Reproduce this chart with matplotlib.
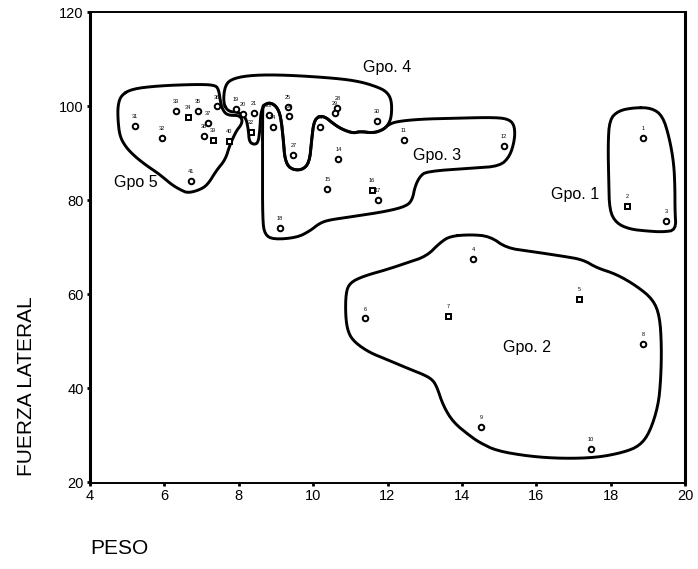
import numpy as np
import matplotlib
matplotlib.use("Agg")
import matplotlib.pyplot as plt

plt.rcParams['font.family'] = ['Liberation Sans', 'DejaVu Sans']

# ---- data: points (PESO, FUERZA LATERAL) per group ----
g1_x = [18.87, 18.45, 19.50]
g1_y = [93.3, 78.7, 75.6]
g1_m = ['o', 's', 'o']

g2_x = [14.30, 17.15, 11.39, 13.63, 18.87, 14.51, 17.47]
g2_y = [67.5, 59.0, 54.8, 55.3, 49.4, 31.8, 27.0]
g2_m = ['o', 's', 'o', 's', 'o', 'o', 'o']

g3_x = [12.44, 15.13, 10.18, 10.68, 10.38, 11.57, 11.75, 9.11]
g3_y = [92.8, 91.5, 95.6, 88.8, 82.4, 82.2, 80.1, 74.1]
g3_m = ['o', 'o', 'o', 'o', 'o', 's', 'o', 'o']

g4_x = [7.92, 8.11, 8.41, 8.33, 8.82, 8.91, 9.32, 9.36, 9.47, 10.65, 10.59, 11.71]
g4_y = [99.3, 98.3, 98.5, 94.5, 98.0, 95.5, 99.8, 97.9, 89.6, 99.6, 98.6, 96.9]
g4_m = ['o', 'o', 'o', 's', 'o', 'o', 'o', 'o', 'o', 'o', 'o', 'o']

g5_x = [5.21, 5.93, 6.30, 6.64, 6.90, 7.41, 7.18, 7.07, 7.31, 7.74, 6.72]
g5_y = [95.8, 93.3, 99.0, 97.6, 99.0, 99.9, 96.4, 93.7, 92.8, 92.6, 84.0]
g5_m = ['o', 'o', 'o', 's', 'o', 'o', 'o', 'o', 's', 's', 'o']

# ---- data: hand-drawn group outlines (data coordinates) ----
out1_x = [18.63, 19.10, 19.40, 19.58, 19.70, 19.73, 19.73, 19.76, 19.40, 18.98,
          18.51, 18.15, 17.97, 17.95, 17.93, 17.97, 18.21]
out1_y = [99.65, 99.6, 97.9, 93.2, 87.8, 82.5, 77.8, 73.6, 73.2, 73.4,
          73.8, 75.1, 77.8, 84.0, 91.7, 97.1, 99.0]

out2_x = [13.68, 14.22, 14.75, 15.20, 15.83, 16.72, 17.26, 17.62, 18.16, 18.70,
          19.14, 19.32, 19.37, 19.35, 19.28, 19.05, 18.78, 18.34, 17.62, 16.72,
          15.83, 14.93, 14.48, 14.22, 13.77, 13.50, 13.32, 13.19, 12.96, 12.60,
          11.98, 11.53, 11.12, 10.94, 10.87, 10.88, 10.99, 11.35, 11.98, 12.51,
          13.05, 13.41]
out2_y = [72.3, 72.65, 72.3, 69.8, 69.1, 68.05, 67.3, 65.6, 64.2, 61.7,
          58.85, 55.3, 48.9, 41.9, 36.2, 30.55, 27.7, 26.3, 25.2, 25.0,
          25.45, 26.65, 28.4, 29.8, 32.7, 36.2, 40.45, 41.9, 42.9, 44.0,
          46.1, 47.5, 49.7, 51.8, 55.3, 60.3, 62.4, 63.8, 65.2, 66.6,
          68.05, 70.9]

out3_x = [8.64, 8.64, 8.68, 8.84, 9.02, 9.13, 9.20, 9.24, 9.38, 9.69,
          9.90, 9.96, 10.02, 10.16, 10.34, 10.50, 10.76, 11.08, 11.26, 11.62,
          11.88, 12.02, 12.24, 12.87, 13.77, 14.93, 15.29, 15.42, 15.42, 15.29,
          15.02, 14.30, 13.05, 12.87, 12.74, 12.67, 12.51, 11.98, 11.08, 10.45,
          10.18, 9.91, 9.56, 8.93, 8.70, 8.64]
out3_y = [88.6, 99.9, 100.25, 100.75, 99.9, 97.8, 92.8, 88.6, 86.6, 86.3,
          87.9, 92.8, 96.7, 97.9, 97.6, 96.5, 95.1, 94.2, 94.6, 94.25,
          94.95, 96.0, 96.7, 97.2, 97.4, 97.6, 97.1, 95.65, 92.8, 89.3,
          87.2, 86.8, 86.1, 85.0, 82.9, 80.1, 78.7, 77.6, 76.5, 75.8,
          75.1, 73.4, 72.0, 71.6, 72.65, 75.8]

out4_x = [7.58, 7.72, 7.99, 8.19, 8.26, 8.28, 8.39, 8.52, 8.57, 8.59,
          8.68, 8.84, 9.02, 9.13, 9.20, 9.24, 9.38, 9.69, 9.90, 9.96,
          10.02, 10.16, 10.34, 10.50, 10.76, 11.08, 11.26, 11.62, 11.88, 12.02,
          12.11, 12.11, 11.97, 11.71, 11.26, 10.63, 9.29, 8.39, 7.85, 7.63]
out4_y = [100.6, 98.8, 98.7, 97.6, 94.95, 92.5, 91.8, 92.1, 94.95, 98.5,
          100.25, 100.75, 99.9, 97.8, 92.8, 88.6, 86.6, 86.3, 87.9, 92.8,
          96.7, 97.9, 97.6, 96.5, 95.1, 94.2, 94.6, 94.25, 94.95, 96.0,
          97.8, 101.3, 103.1, 104.1, 105.2, 105.9, 106.6, 106.6, 105.9, 104.5]

out5_x = [4.84, 5.13, 5.85, 6.81, 7.34, 7.46, 7.52, 7.62, 7.76, 8.00,
          8.10, 8.06, 7.94, 7.76, 7.64, 7.40, 7.16, 6.93, 6.63, 6.45,
          6.21, 5.97, 5.79, 5.49, 5.19, 4.96, 4.80, 4.75, 4.75]
out5_y = [102.3, 103.65, 104.3, 104.6, 104.5, 103.65, 100.2, 98.5, 98.0, 98.0,
          97.1, 95.9, 94.8, 91.7, 88.6, 86.3, 83.2, 82.1, 81.5, 82.1,
          83.2, 84.8, 85.9, 87.5, 89.4, 91.3, 93.6, 97.1, 100.2]

group_names = ["Gpo. 1", "Gpo. 2", "Gpo. 3", "Gpo. 4", "Gpo 5"]
group_label_x = [17.04, 15.75, 13.33, 12.0, 5.24]
group_label_y = [81.1, 48.7, 89.4, 108.1, 83.7]

xticks = [4, 6, 8, 10, 12, 14, 16, 18, 20]
yticks = [20, 40, 60, 80, 100, 120]


def smooth_closed(x, y, n_iter=2):
    pts = np.column_stack([x, y]).astype(float)
    for _ in range(n_iter):
        nxt = np.roll(pts, -1, axis=0)
        q = 0.75 * pts + 0.25 * nxt
        r = 0.25 * pts + 0.75 * nxt
        pts = np.empty((2 * len(q), 2))
        pts[0::2] = q
        pts[1::2] = r
    pts = np.vstack([pts, pts[:1]])
    return pts[:, 0], pts[:, 1]


fig = plt.figure(figsize=(6.98, 5.69), dpi=100)
ax = fig.add_axes([90 / 698, 1 - 483 / 569, 595 / 698, 471 / 569])

# outlines
for ox, oy in [(out1_x, out1_y), (out2_x, out2_y), (out3_x, out3_y),
               (out4_x, out4_y), (out5_x, out5_y)]:
    sx, sy = smooth_closed(ox, oy)
    ax.plot(sx, sy, color='black', lw=2.1, solid_joinstyle='round',
            solid_capstyle='round', zorder=2)

# points
case = 1
for gx, gy, gm in [(g1_x, g1_y, g1_m), (g2_x, g2_y, g2_m), (g3_x, g3_y, g3_m),
                   (g4_x, g4_y, g4_m), (g5_x, g5_y, g5_m)]:
    for xv, yv, mv in zip(gx, gy, gm):
        ax.plot(xv, yv, marker=mv, ms=4.0 if mv == 'o' else 3.6,
                mfc='white', mec='black', mew=1.4, ls='none', zorder=3)
        ax.annotate(str(case), (xv, yv), xytext=(0, 5), textcoords='offset points',
                    ha='center', va='bottom', fontsize=4, color='black', zorder=3)
        case += 1

# group labels
for name, lx, ly in zip(group_names, group_label_x, group_label_y):
    ax.text(lx, ly, name, ha='center', va='center', fontsize=11.5, zorder=4)

ax.set_xlim(4, 20)
ax.set_ylim(19.8, 120)
ax.set_xticks(xticks)
ax.set_yticks(yticks)
ax.tick_params(direction='out', length=2.5, width=2, labelsize=10.5, pad=2)
for s in ax.spines.values():
    s.set_linewidth(1.4)
ax.spines['right'].set_linewidth(2.2)
ax.spines['left'].set_linewidth(2.2)

fig.text(27 / 698, 1 - 386 / 569, "FUERZA LATERAL", rotation=90, ha='center',
         va='center', fontsize=15)
fig.text(90 / 698, 1 - 548 / 569, "PESO", ha='left', va='center', fontsize=15)

fig.savefig("out.png", dpi=100)
